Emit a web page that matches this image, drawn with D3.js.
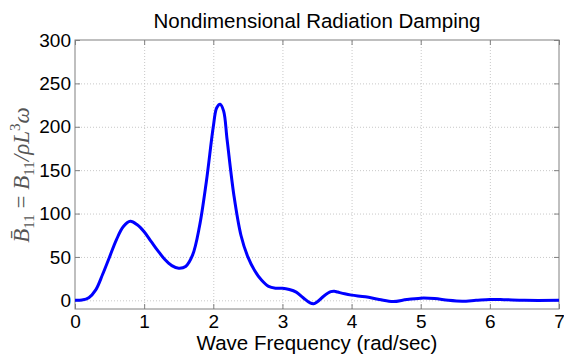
<!DOCTYPE html>
<html><head>
  <script src="https://d3js.org/d3.v7.min.js"></script>
  <style>
    body { margin: 0; background: white; }
    text { font-family: Arial, 'Liberation Sans', sans-serif; }
    .axis path { display: none; }
    .axis line { stroke: #808080; }
    .axis text { font-size: 19px; fill: #000; }
    .grid line { stroke: #c8c8c8; stroke-dasharray: 1,2; }
    .grid path { display: none; }
  </style>
</head>
<body>
<svg id="plot" width="564" height="356"></svg>
<script>
  // wave frequency (rad/sec) and nondimensional damping
  const freq = [0, 0.1, 0.2, 0.3, 0.4, 0.5, 0.6, 0.7, 0.8, 0.9, 1.0, 1.1, 1.2, 1.3, 1.4, 1.5, 1.6, 1.7, 1.8, 1.9,
    2.0, 2.05, 2.1, 2.15, 2.2, 2.3, 2.4, 2.5, 2.6, 2.7, 2.8, 2.9, 3.0, 3.1, 3.2, 3.3, 3.4, 3.45, 3.5, 3.6,
    3.7, 3.75, 3.8, 3.9, 4.0, 4.2, 4.4, 4.6, 4.8, 5.0, 5.2, 5.4, 5.6, 5.8, 6.0, 6.2, 6.5, 7.0]
  const damping = [0, 0.3, 3, 12, 30, 50, 70, 85, 91, 87, 79, 68, 57, 47, 40, 37, 39, 52, 85, 137,
    200, 222, 226, 218, 185, 120, 75, 50, 34, 23, 16, 14, 14, 12.5, 9.5, 3, -3, -4, -2, 5,
    10, 10.5, 9.5, 7.5, 6, 4, 1, -1.5, 1, 2.5, 2, 0, -1, 0, 1, 0.8, 0, 0]
  const xTicks = [0, 1, 2, 3, 4, 5, 6, 7]
  const yTicks = [0, 50, 100, 150, 200, 250, 300]

  const svg = d3.select("#plot")
  const margin = {top: 40, right: 5, bottom: 47, left: 75}
  const W = 564, H = 356
  const x = d3.scaleLinear().domain([0, 7]).range([margin.left, W - margin.right])
  const y = d3.scaleLinear().domain([-10, 300]).range([H - margin.bottom, margin.top])
  const y0 = y(-10), y1 = y(300), x0 = x(0), x1 = x(7)

  // grid
  svg.append("g").attr("class", "grid")
    .attr("transform", `translate(0,${y0})`)
    .call(d3.axisBottom(x).tickValues(xTicks.slice(1, -1)).tickSize(-(y0 - y1)).tickFormat(""))
  svg.append("g").attr("class", "grid")
    .attr("transform", `translate(${x0},0)`)
    .call(d3.axisLeft(y).tickValues(yTicks.slice(0, -1)).tickSize(-(x1 - x0)).tickFormat(""))

  // box
  svg.append("rect").attr("x", x0).attr("y", y1).attr("width", x1 - x0).attr("height", y0 - y1)
    .attr("fill", "none").attr("stroke", "#808080")

  // axes with inward ticks
  svg.append("g").attr("class", "axis").attr("transform", `translate(0,${y0})`)
    .call(d3.axisBottom(x).tickValues(xTicks).tickSize(-5).tickPadding(6).tickFormat(d3.format("d")))
  svg.append("g").attr("class", "axis").attr("transform", `translate(0,${y1})`)
    .call(d3.axisTop(x).tickValues(xTicks).tickSize(-5).tickFormat(""))
  svg.append("g").attr("class", "axis").attr("transform", `translate(${x0},0)`)
    .call(d3.axisLeft(y).tickValues(yTicks).tickSize(-5).tickPadding(4).tickFormat(d3.format("d")))
  svg.append("g").attr("class", "axis").attr("transform", `translate(${x1},0)`)
    .call(d3.axisRight(y).tickValues(yTicks).tickSize(-5).tickFormat(""))

  // curve
  const pts = freq.map((f, i) => [f, damping[i]])
  svg.append("path").datum(pts)
    .attr("fill", "none").attr("stroke", "#0000ff").attr("stroke-width", 3)
    .attr("d", d3.line().x(d => x(d[0])).y(d => y(d[1])).curve(d3.curveCatmullRom))

  // title and labels
  svg.append("text").attr("x", (x0 + x1) / 2).attr("y", 28).attr("text-anchor", "middle")
    .style("font-size", "20.5px").text("Nondimensional Radiation Damping")
  svg.append("text").attr("x", (x0 + x1) / 2).attr("y", 350).attr("text-anchor", "middle")
    .style("font-size", "20.5px").text("Wave Frequency (rad/sec)")

  const yl = svg.append("text")
    .attr("transform", "translate(29,175) rotate(-90)")
    .attr("text-anchor", "middle")
    .style("font-family", "'Liberation Serif', 'DejaVu Serif', serif")
    .style("font-size", "23px").attr("fill", "#555")
  yl.append("tspan").style("font-style", "italic").text("B\u0304")
  yl.append("tspan").attr("dy", 5).style("font-size", "15px").text("11")
  yl.append("tspan").attr("dy", -5).text(" = ")
  yl.append("tspan").style("font-style", "italic").text("B")
  yl.append("tspan").attr("dy", 5).style("font-size", "15px").text("11")
  yl.append("tspan").attr("dy", -5).style("font-style", "italic").text("/\u03c1L")
  yl.append("tspan").attr("dy", -9).style("font-size", "15px").text("3")
  yl.append("tspan").attr("dy", 9).style("font-style", "italic").text("\u03c9")
</script>
</body>
</html>
